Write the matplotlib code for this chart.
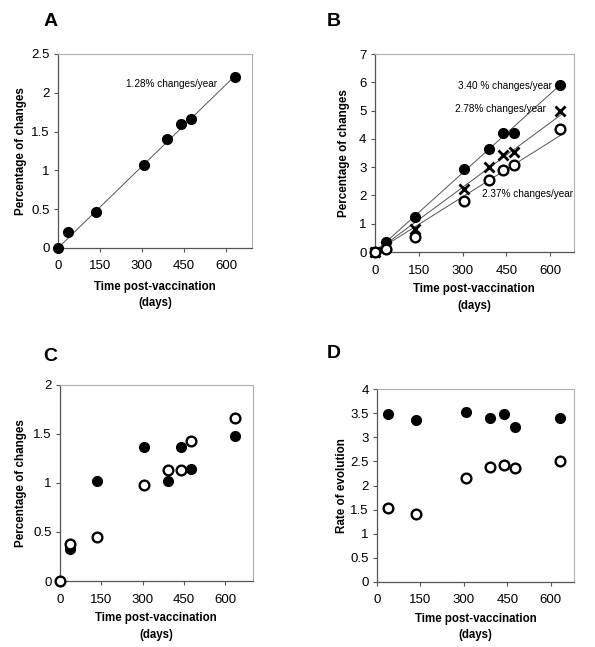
import matplotlib
matplotlib.use('Agg')
import matplotlib.pyplot as plt
import numpy as np

plt.rcParams['font.family'] = ['Liberation Sans', 'DejaVu Sans']

# sampling times (days post-vaccination)
days = [0, 37, 136, 306, 390, 439, 476, 633]

# panel A
a_pct = [0, 0.20, 0.46, 1.07, 1.41, 1.60, 1.66, 2.20]
a_rate = 1.28

# panel B
b_filled = [0, 0.36, 1.24, 2.95, 3.63, 4.20, 4.20, 5.91]
b_cross = [0, 0.20, 0.82, 2.22, 2.99, 3.42, 3.52, 4.99]
b_open = [0, 0.12, 0.52, 1.79, 2.56, 2.91, 3.08, 4.35]
b_rates = [3.40, 2.78, 2.37]
b_labels = ['3.40 % changes/year', '2.78% changes/year', '2.37% changes/year']

# panel C
c_days_filled = [37, 136, 306, 390, 439, 476, 633]
c_filled = [0.33, 1.02, 1.37, 1.02, 1.37, 1.14, 1.48]
c_open = [0, 0.38, 0.45, 0.98, 1.13, 1.13, 1.43, 1.66]

# panel D
d_days = [37, 136, 306, 390, 439, 476, 633]
d_filled = [3.48, 3.36, 3.52, 3.40, 3.48, 3.21, 3.40]
d_open = [1.54, 1.42, 2.15, 2.39, 2.42, 2.37, 2.52]

fig = plt.figure(figsize=(5.95, 6.47), dpi=100)

axA = fig.add_axes([0.0975, 0.6167, 0.326, 0.300])
axB = fig.add_axes([0.630, 0.6105, 0.334, 0.306])
axC = fig.add_axes([0.1008, 0.102, 0.324, 0.303])
axD = fig.add_axes([0.6336, 0.1005, 0.331, 0.298])

ms = 7
filled = dict(marker='o', ls='none', ms=ms, mfc='black', mec='black', clip_on=False, zorder=3)
hollow = dict(marker='o', ls='none', ms=ms, mfc='white', mec='black', mew=1.7, clip_on=False, zorder=3)


def style(ax, xmax, ymax, ystep, ylabel, ylab_x, xlab_y):
    ax.set_xlim(0, xmax)
    ax.set_ylim(0, ymax)
    ax.set_xticks([0, 150, 300, 450, 600])
    yt = np.arange(0, ymax + 0.001, ystep)
    ax.set_yticks(yt)
    ax.set_yticklabels(['%g' % v for v in yt])
    for s in ['top', 'right']:
        ax.spines[s].set_color('#b0b0b0')
        ax.spines[s].set_linewidth(0.8)
    for s in ['left', 'bottom']:
        ax.spines[s].set_color('#555555')
        ax.spines[s].set_linewidth(0.9)
    ax.tick_params(direction='out', length=3, width=0.8, color='#555555', labelsize=9.5)
    ax.tick_params(axis='x', pad=6)
    ax.tick_params(axis='y', pad=3)
    ax.set_xlabel('Time post-vaccination\n(days)', fontsize=8.3, fontweight='bold', linespacing=1.5)
    ax.set_ylabel(ylabel, fontsize=8.4, fontweight='bold')
    ax.yaxis.set_label_coords(ylab_x, 0.5)
    ax.xaxis.set_label_coords(0.5, xlab_y)


# A
style(axA, 693, 2.5, 0.5, 'Percentage of changes', -0.16, -0.17)
xl = np.array([0, 640])
axA.plot(xl, a_rate / 365 * xl, color='#555555', lw=0.7, zorder=2)
axA.plot(days, a_pct, **filled)
axA.text(407, 2.11, '1.28% changes/year', fontsize=7.2, ha='center', va='center')

# B
style(axB, 680, 7, 1, 'Percentage of changes', -0.125, -0.157)
for r in b_rates:
    axB.plot(xl, r / 365 * xl, color='#555555', lw=0.7, zorder=2)
axB.plot(days, b_filled, **filled)
axB.plot(days, b_cross, marker='x', ls='none', ms=7.5, mew=2, color='black', clip_on=False, zorder=3)
axB.plot(days, b_open, **hollow)
axB.text(605, 5.87, b_labels[0], fontsize=7.2, ha='right', va='center')
axB.text(584, 5.05, b_labels[1], fontsize=7.2, ha='right', va='center')
axB.text(366, 2.06, b_labels[2], fontsize=7.2, ha='left', va='center')

# C
style(axC, 699, 2, 0.5, 'Percentage of changes', -0.17, -0.16)
axC.plot(c_days_filled, c_filled, **filled)
axC.plot(days, c_open, **hollow)

# D
style(axD, 680, 4, 0.5, 'Rate of evolution', -0.147, -0.16)
axD.plot(d_days, d_filled, **filled)
axD.plot(d_days, d_open, **hollow)

# panel letters
letter_pos = {'A': (-0.077, 1.165), 'B': (-0.24, 1.165), 'C': (-0.088, 1.143), 'D': (-0.254, 1.187)}
for ax, lab in zip([axA, axB, axC, axD], 'ABCD'):
    x, y = letter_pos[lab]
    ax.text(x, y, lab, transform=ax.transAxes, fontsize=14, fontweight='bold', ha='left', va='center')

fig.savefig('out.png', dpi=100)
